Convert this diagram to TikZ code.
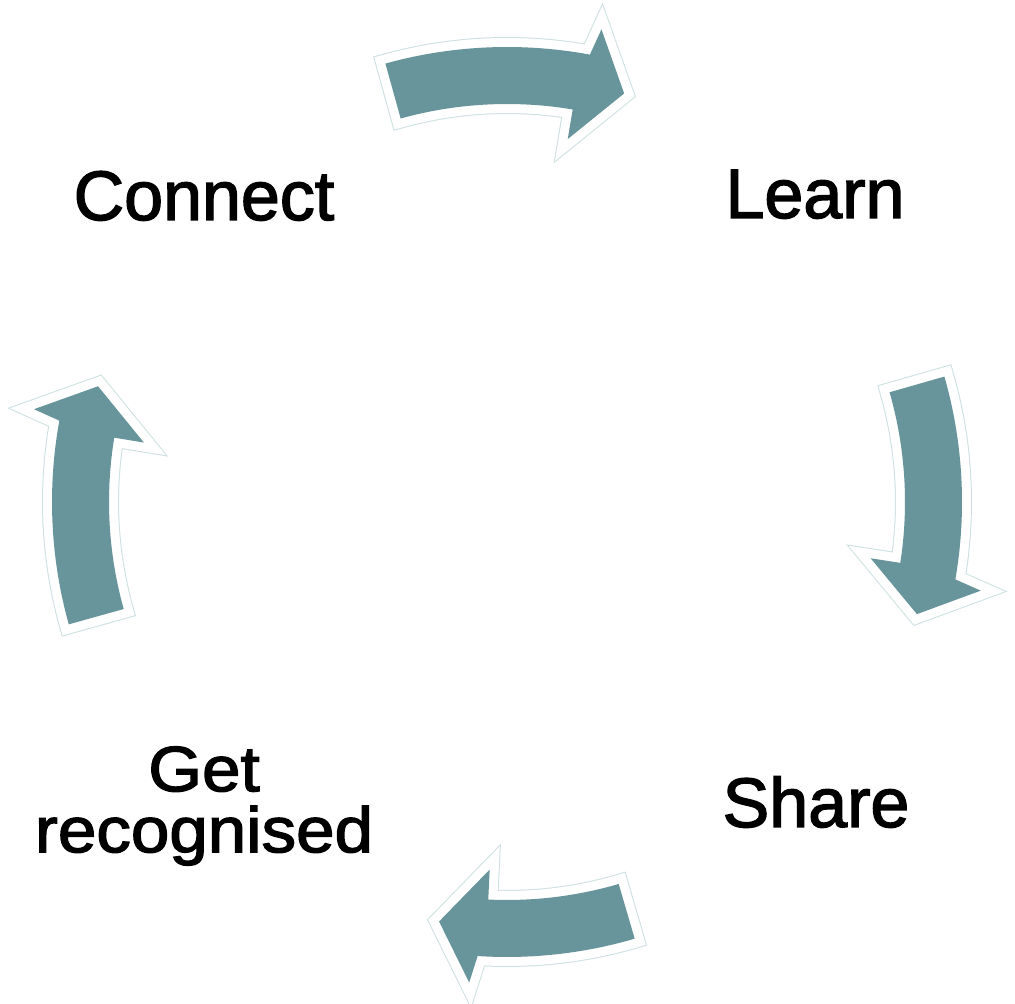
\documentclass[tikz,border=0pt]{standalone}
\usepackage{fontspec}
\setmainfont{Liberation Sans}
\newfontfamily\lblfont{Liberation Sans}[FakeBold=2]
\definecolor{arrowfill}{HTML}{67959B}
\definecolor{arrowedge}{HTML}{CDE0E1}
\newcommand\blockarrowpath[2]{%
  ({#1}:455) arc[start angle={#1}, end angle={#2-0.5}, radius=455]
  -- ({#2-1.3}:482) -- ({#2-6}:425) -- ({#2+0.5}:368) -- ({#2+0.5}:398)
  arc[start angle={#2+0.5}, end angle={#1}, radius=398] -- cycle}
\newcommand\cyclearrow[2]{%
  \draw[arrowedge, line width=20pt, line join=miter] \blockarrowpath{#1}{#2};
  \draw[white, line width=18pt, line join=miter] \blockarrowpath{#1}{#2};
  \fill[arrowfill] \blockarrowpath{#1}{#2};}
\begin{document}
\begin{tikzpicture}[x=1pt, y=1pt,
  lbl/.style={inner sep=0pt, font=\lblfont\fontsize{70}{70}\selectfont},
  lbltwo/.style={inner sep=0pt, align=center, xscale=1.08,
    font=\lblfont\fontsize{64}{61}\selectfont}]
\useasboundingbox (0,0) rectangle (1015,1004);
\fill[white] (0,0) rectangle (1015,1004);
\begin{scope}[shift={(507,502)}]
  \cyclearrow{105.5}{80}
  \cyclearrow{16}{-9.3}
  \cyclearrow{-73.7}{-93.2}
  \cyclearrow{195.6}{170.2}
\end{scope}
\node[lbl, anchor=base] (connect) at (204,784) {Connect};
\node[lbl, anchor=base] (learn) at (815,786) {Learn};
\node[lbl, anchor=base] (share) at (816,177) {Share};
\node[lbltwo] (getrec) at (204,198) {Get\\recognised};
\end{tikzpicture}
\end{document}
